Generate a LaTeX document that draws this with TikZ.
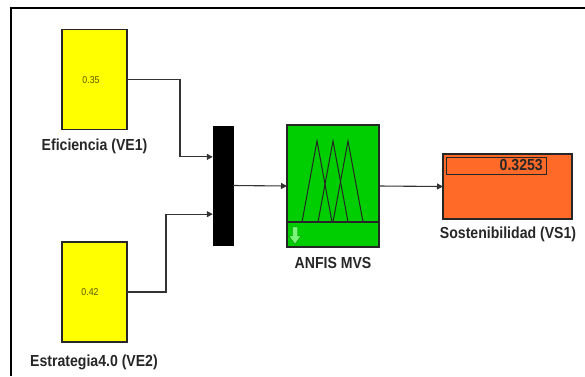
\documentclass[tikz,border=0pt]{standalone}
\usepackage{fontspec}
\setmainfont{Liberation Sans}
\newfontfamily\labfont[FakeStretch=0.88]{Liberation Sans}
\usetikzlibrary{arrows.meta,calc}
\definecolor{simyellow}{RGB}{255,255,0}
\definecolor{simgreen}{RGB}{0,206,0}
\definecolor{simorange}{RGB}{255,106,40}
\definecolor{numolive}{RGB}{90,90,0}
\begin{document}
\begin{tikzpicture}[x=1pt,y=-1pt,
  blk/.style={draw=black!85,line width=1.3pt,inner sep=0pt,outer sep=0pt},
  conn/.style={draw=black!80,line width=1.1pt,-{Triangle[length=6pt,width=6pt]}},
  lab/.style={font=\labfont\bfseries\fontsize{16}{18}\selectfont,text=black!85,inner sep=0pt},
  small/.style={font=\labfont\fontsize{10}{11}\selectfont,text=numolive,inner sep=0pt}]
\useasboundingbox (0,0) rectangle (585,376);
% frame
\draw[line width=2.2pt,black] (11,376) -- (11,8) -- (585,8);
% source blocks
\node[blk,fill=simyellow,minimum width=65pt,minimum height=100pt] (b1) at (94.5,79.5) {};
\node[small] (v1) at (91,80) {0.35};
\node[lab] (l1) at (94.5,146) {Eficiencia (VE1)};
\node[blk,fill=simyellow,minimum width=65pt,minimum height=100pt] (b2) at (94.5,292) {};
\node[small] (v2) at (90,292) {0.42};
\node[lab] (l2) at (94,362) {Estrategia4.0 (VE2)};
% mux
\node[fill=black,draw=black,inner sep=0pt,minimum width=20pt,minimum height=119pt] (mux) at (223,185.5) {};
\coordinate (m1) at ($(mux.north west)!0.26!(mux.south west)$);
\coordinate (m2) at ($(mux.north west)!0.74!(mux.south west)$);
% ANFIS block
\node[blk,fill=simgreen,minimum width=92pt,minimum height=122pt] (anf) at (333,186) {};
\draw[black!85,line width=1.2pt] (287,222) -- (379,222);
\draw[black!85,line width=1pt] (302,222) -- (317,141) -- (332,222);
\draw[black!85,line width=1pt] (318,222) -- (333,141) -- (348,222);
\draw[black!85,line width=1pt] (333,222) -- (348,141) -- (363,222);
\fill[green!40!white,draw=green!45!black,line width=0.4pt,opacity=0.8] (292.5,227) -- (297.5,227) -- (297.5,236) -- (301,236) -- (295,244) -- (289,236) -- (292.5,236) -- cycle;
\node[lab] (l3) at (333,263) {ANFIS MVS};
% display
\node[blk,fill=simorange,minimum width=129pt,minimum height=65pt] (disp) at (507.5,186.5) {};
\node[draw=black!85,line width=0.9pt,minimum width=100pt,minimum height=17pt,inner sep=0pt] (dv) at (496,165.5) {};
\node[font=\labfont\bfseries\fontsize{16}{18}\selectfont,text=black!85,inner sep=0pt,anchor=east] (val) at (543,165) {0.3253};
\node[lab] (l4) at (508,234) {Sostenibilidad (VS1)};
% connectors
\draw[conn] (b1.east) -- ++(53,0) |- (m1);
\draw[conn] (b2.east) -- ++(39,0) |- (m2);
\draw[conn] (mux.east) -- (anf.west);
\draw[conn] (anf.east) -- (disp.west);
\end{tikzpicture}
\end{document}
